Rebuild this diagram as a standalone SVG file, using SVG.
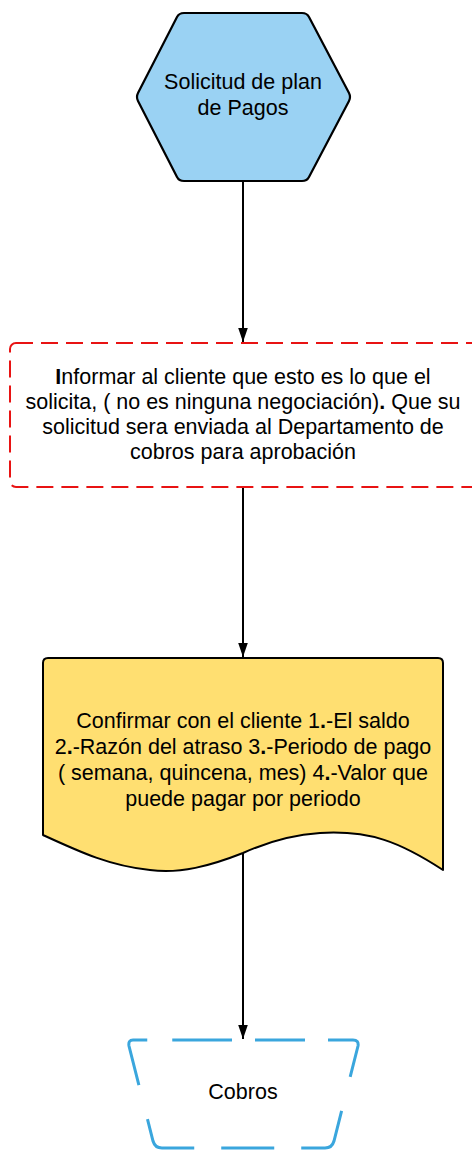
<svg xmlns="http://www.w3.org/2000/svg" width="472" height="1151" viewBox="0 0 472 1151">
<style>
text{font-family:"Liberation Sans",Arial,sans-serif;font-size:21.5px;fill:#000;text-anchor:middle}
.b{font-weight:bold}
.conn{stroke:#000;stroke-width:2;fill:none}
</style>
<defs>
<marker id="arr" markerWidth="14" markerHeight="20" refX="19" refY="7" orient="auto" markerUnits="userSpaceOnUse" viewBox="0 0 19 14">
<path d="M0,0.5 L19,7 L0,13.5 Z" fill="#000"/>
</marker>
</defs>
<rect width="472" height="1151" fill="#fff"/>
<g id="connectors">
<path class="conn" d="M243,181 L243,342" marker-end="url(#arr)"/>
<path class="conn" d="M243,488 L243,657" marker-end="url(#arr)"/>
<path class="conn" d="M243,853 L243,1039" marker-end="url(#arr)"/>
</g>
<g id="node-solicitud">
<path d="M184,13 L302,13 Q307,13 309,17 L349,93 Q351,97 349,101 L309,177 Q307,181 302,181 L184,181 Q179,181 177,177 L138,101 Q136,97 138,93 L177,17 Q179,13 184,13 Z" fill="#9ad2f3" stroke="#000" stroke-width="2.2" stroke-linejoin="round"/>
<text x="243" y="89">Solicitud de plan</text>
<text x="243" y="115">de Pagos</text>
</g>
<g id="node-informar">
<rect x="10" y="343" width="468" height="144" rx="6" fill="#fff" stroke="#e81313" stroke-width="2" stroke-dasharray="17 8"/>
<text x="243" y="384"><tspan class="b">I</tspan>nformar al cliente que esto es lo que el</text>
<text x="243" y="409">solicita, ( no es ninguna negociación)<tspan class="b">.</tspan> Que su</text>
<text x="243" y="434">solicitud sera enviada al Departamento de</text>
<text x="243" y="459">cobros para aprobación</text>
</g>
<g id="node-confirmar">
<path d="M48,658 L438,658 Q443,658 443,663 L443,870 C400,842 370,830 320,833 C290,835 265,843 243,853 C210,866 180,874 150,870 C110,866 80,852 43,835 L43,663 Q43,658 48,658 Z" fill="#ffdf71" stroke="#000" stroke-width="2" stroke-linejoin="round"/>
<text x="243" y="728">Confirmar con el cliente 1<tspan class="b">.</tspan>-El saldo</text>
<text x="243" y="754">2<tspan class="b">.</tspan>-Razón del atraso 3<tspan class="b">.</tspan>-Periodo de pago</text>
<text x="243" y="780">( semana, quincena, mes) 4<tspan class="b">.</tspan>-Valor que</text>
<text x="243" y="806">puede pagar por periodo</text>
</g>
<g id="node-cobros">
<path d="M182,1040 L353,1040 Q359,1040 358,1046 L334,1141 Q332,1148 325,1148 L162,1148 Q155,1148 153,1141 L129,1046 Q128,1040 133,1040 Z" fill="#fff" stroke="#3aa6dd" stroke-width="3" stroke-linecap="butt" stroke-dasharray="50 23 50 23 66 35 67 27 53 27 67 35 63 25"/>
<text x="243" y="1099">Cobros</text>
</g>
</svg>
